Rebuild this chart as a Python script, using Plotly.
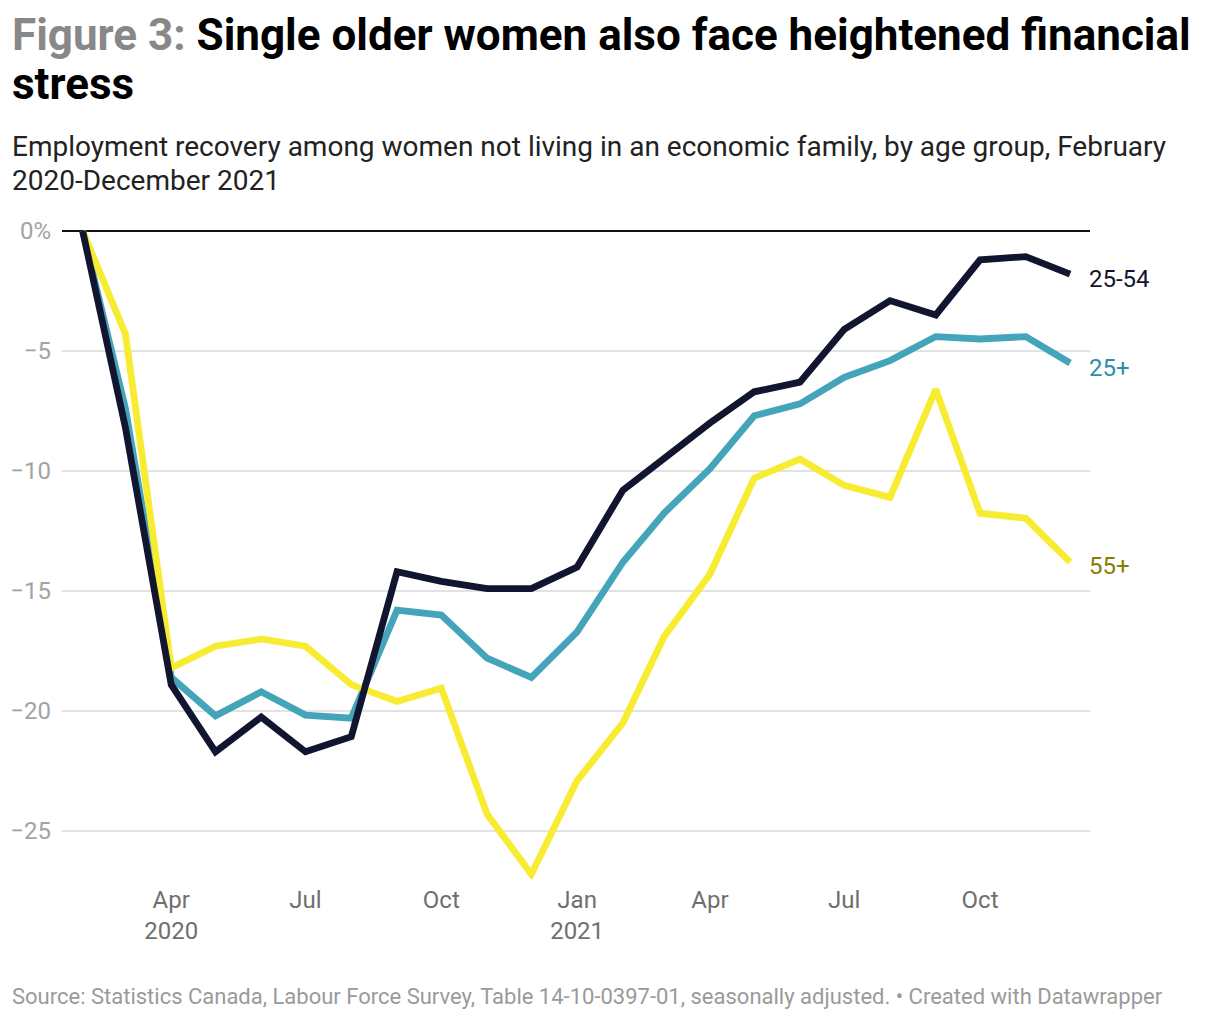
import plotly.graph_objects as go

months = ["2020-02-01", "2020-03-01", "2020-04-01", "2020-05-01", "2020-06-01", "2020-07-01",
          "2020-08-01", "2020-09-01", "2020-10-01", "2020-11-01", "2020-12-01", "2021-01-01",
          "2021-02-01", "2021-03-01", "2021-04-01", "2021-05-01", "2021-06-01", "2021-07-01",
          "2021-08-01", "2021-09-01", "2021-10-01", "2021-11-01", "2021-12-01"]

age_25_54 = [0, -8.2, -18.9, -21.7, -20.25, -21.7, -21.07, -14.2, -14.6, -14.9, -14.9, -14.0,
             -10.8, -9.5, -8.0, -6.7, -6.3, -4.1, -2.9, -3.5, -1.2, -1.07, -1.8]
age_25_plus = [0, -7.4, -18.6, -20.2, -19.2, -20.17, -20.3, -15.8, -16.0, -17.8, -18.6, -16.7,
               -13.8, -11.75, -9.9, -7.7, -7.2, -6.1, -5.4, -4.4, -4.5, -4.4, -5.5]
age_55_plus = [0, -4.3, -18.2, -17.3, -17.0, -17.3, -18.9, -19.6, -19.05, -24.3, -26.8, -22.9,
               -20.5, -16.9, -14.3, -10.3, -9.5, -10.6, -11.1, -6.6, -11.76, -11.97, -13.8]

x_tickvals = ["2020-04-01", "2020-07-01", "2020-10-01", "2021-01-01", "2021-04-01", "2021-07-01", "2021-10-01"]
x_ticktext = ["Apr<br>2020", "Jul", "Oct", "Jan<br>2021", "Apr", "Jul", "Oct"]
y_tickvals = [0, -5, -10, -15, -20, -25]
y_ticktext = ["0%", "\u22125", "\u221210", "\u221215", "\u221220", "\u221225"]

series = [
    ("25+", age_25_plus, "#44a4ba", "#2b8fa8"),
    ("55+", age_55_plus, "#f7ec31", "#858000"),
    ("25-54", age_25_54, "#12152f", "#12152f"),
]

FONT = "Roboto"
fig = go.Figure()
for name, vals, col, _ in series:
    fig.add_trace(go.Scatter(x=months, y=vals, mode="lines", name=name,
                             line=dict(color=col, width=6.8), showlegend=False,
                             cliponaxis=False))

# page offset (body margin) and plot area geometry in screen pixels
OFF = 8
L, R, T, B = 62, 1090, 219, 879
W, H = R - L, B - T

def px(x):
    return (x - L) / W

def py(y):
    return (B - y) / H

ann = []
for name, vals, _, tcol in series:
    ann.append(dict(x=months[-1], y=vals[-1], xref="x", yref="y", text=name, showarrow=False,
                    xanchor="left", yanchor="middle", xshift=17,
                    yshift={"25-54": -5, "25+": -5, "55+": -4}[name],
                    font=dict(family=FONT, size=24, color=tcol)))

ann.append(dict(x=px(10), y=py(6.5), xref="paper", yref="paper", xanchor="left", yanchor="top",
                showarrow=False, align="left",
                text="<b><span style='color:#888888'>Figure 3:</span> Single older women also face heightened financial</b>",
                font=dict(family=FONT, size=44, color="#000000")))
ann.append(dict(x=px(10), y=py(56), xref="paper", yref="paper", xanchor="left", yanchor="top",
                showarrow=False, align="left", text="<b>stress</b>",
                font=dict(family=FONT, size=44, color="#000000")))
ann.append(dict(x=px(10), y=py(128), xref="paper", yref="paper", xanchor="left", yanchor="top",
                showarrow=False, align="left",
                text="Employment recovery among women not living in an economic family, by age group, February",
                font=dict(family=FONT, size=28, color="#222222")))
ann.append(dict(x=px(10), y=py(162), xref="paper", yref="paper", xanchor="left", yanchor="top",
                showarrow=False, align="left", text="2020-December 2021",
                font=dict(family=FONT, size=28, color="#222222")))
ann.append(dict(x=px(10), y=py(982), xref="paper", yref="paper", xanchor="left", yanchor="top",
                showarrow=False, align="left",
                text="Source: Statistics Canada, Labour Force Survey, Table 14-10-0397-01, seasonally adjusted. \u2022 Created with Datawrapper",
                font=dict(family=FONT, size=22, color="#9a9a9a")))

fig.update_layout(
    width=1220, height=1020,
    margin=dict(l=L - OFF, r=1220 + OFF - R, t=T - OFF, b=1020 + OFF - B, pad=0),
    paper_bgcolor="white", plot_bgcolor="white",
    font=dict(family=FONT),
    annotations=ann,
    xaxis=dict(type="date", range=["2020-01-18", "2021-12-14 12:00"], automargin=False,
               tickvals=x_tickvals, ticktext=x_ticktext, showgrid=False, zeroline=False,
               showline=False, ticks="", ticklabelstandoff=4,
               tickfont=dict(family=FONT, size=24, color="#6f6f6f")),
    yaxis=dict(range=[-27.0, 0.5], tickvals=y_tickvals, ticktext=y_ticktext, automargin=False,
               showgrid=True, gridcolor="#e2e2e2", gridwidth=1.5,
               zeroline=True, zerolinecolor="#111111", zerolinewidth=2,
               showline=False, ticks="", ticklabelstandoff=10,
               tickfont=dict(family=FONT, size=24, color="#a3a3a3")),
)

fig.write_html("out.html")
